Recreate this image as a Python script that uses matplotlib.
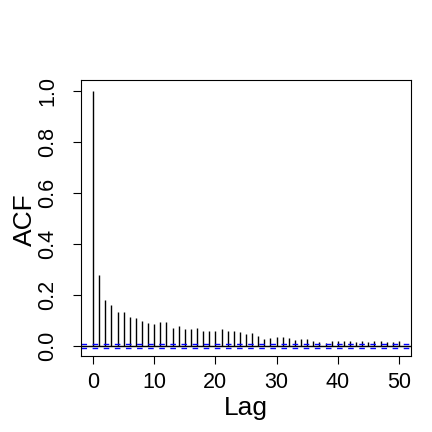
import matplotlib
matplotlib.use("Agg")
import matplotlib.pyplot as plt
import numpy as np

plt.rcParams['font.family'] = ['Liberation Sans', 'DejaVu Sans']

lags = list(range(0, 51))
acf_values = [1.0, 0.278, 0.18, 0.16, 0.134, 0.134, 0.114, 0.109, 0.099, 0.09,
              0.086, 0.094, 0.094, 0.069, 0.078, 0.067, 0.066, 0.071, 0.06, 0.06,
              0.06, 0.066, 0.058, 0.057, 0.054, 0.047, 0.05, 0.039, 0.027, 0.031,
              0.035, 0.034, 0.03, 0.024, 0.026, 0.026, 0.018, 0.015, 0.013, 0.018,
              0.018, 0.02, 0.021, 0.016, 0.018, 0.017, 0.02, 0.018, 0.016, 0.017,
              0.02]
conf_bound = 0.006
x_ticks = [0, 10, 20, 30, 40, 50]
y_ticks = [0.0, 0.2, 0.4, 0.6, 0.8, 1.0]
y_tick_labels = ["0.0", "0.2", "0.4", "0.6", "0.8", "1.0"]

W = 432
fig = plt.figure(figsize=(4.32, 4.32), dpi=100)
l, r, t, b = 80.8, 411.2, 79.8, 356.2
ax = fig.add_axes([l / W, 1 - b / W, (r - l) / W, (b - t) / W])

ax.vlines(lags, 0, acf_values, colors='black', linewidth=1.0)
ax.axhline(0, color='black', linewidth=1.0)
ax.axhline(conf_bound, color='#0000FF', linestyle=(0, (4, 4)), linewidth=1.0)
ax.axhline(-conf_bound, color='#0000FF', linestyle=(0, (4, 4)), linewidth=1.0)

ax.set_xlim(-2, 52)
ax.set_ylim(-0.04, 1.044)
ax.set_xticks(x_ticks)
ax.set_yticks(y_ticks)
ax.set_yticklabels(y_tick_labels, rotation=90, va='center')

for s in ax.spines.values():
    s.set_linewidth(0.8)
ax.tick_params(axis='both', direction='out', length=5.5, width=0.8, labelsize=15.5)
ax.tick_params(axis='x', pad=6)
ax.tick_params(axis='y', pad=11)

fig.text(246 / W, 1 - 415 / W, "Lag", ha='center', va='baseline', fontsize=19)
fig.text(25 / W, 1 - 220 / W, "ACF", ha='center', va='center', rotation=90, fontsize=19)

fig.savefig("out.png", dpi=100)
